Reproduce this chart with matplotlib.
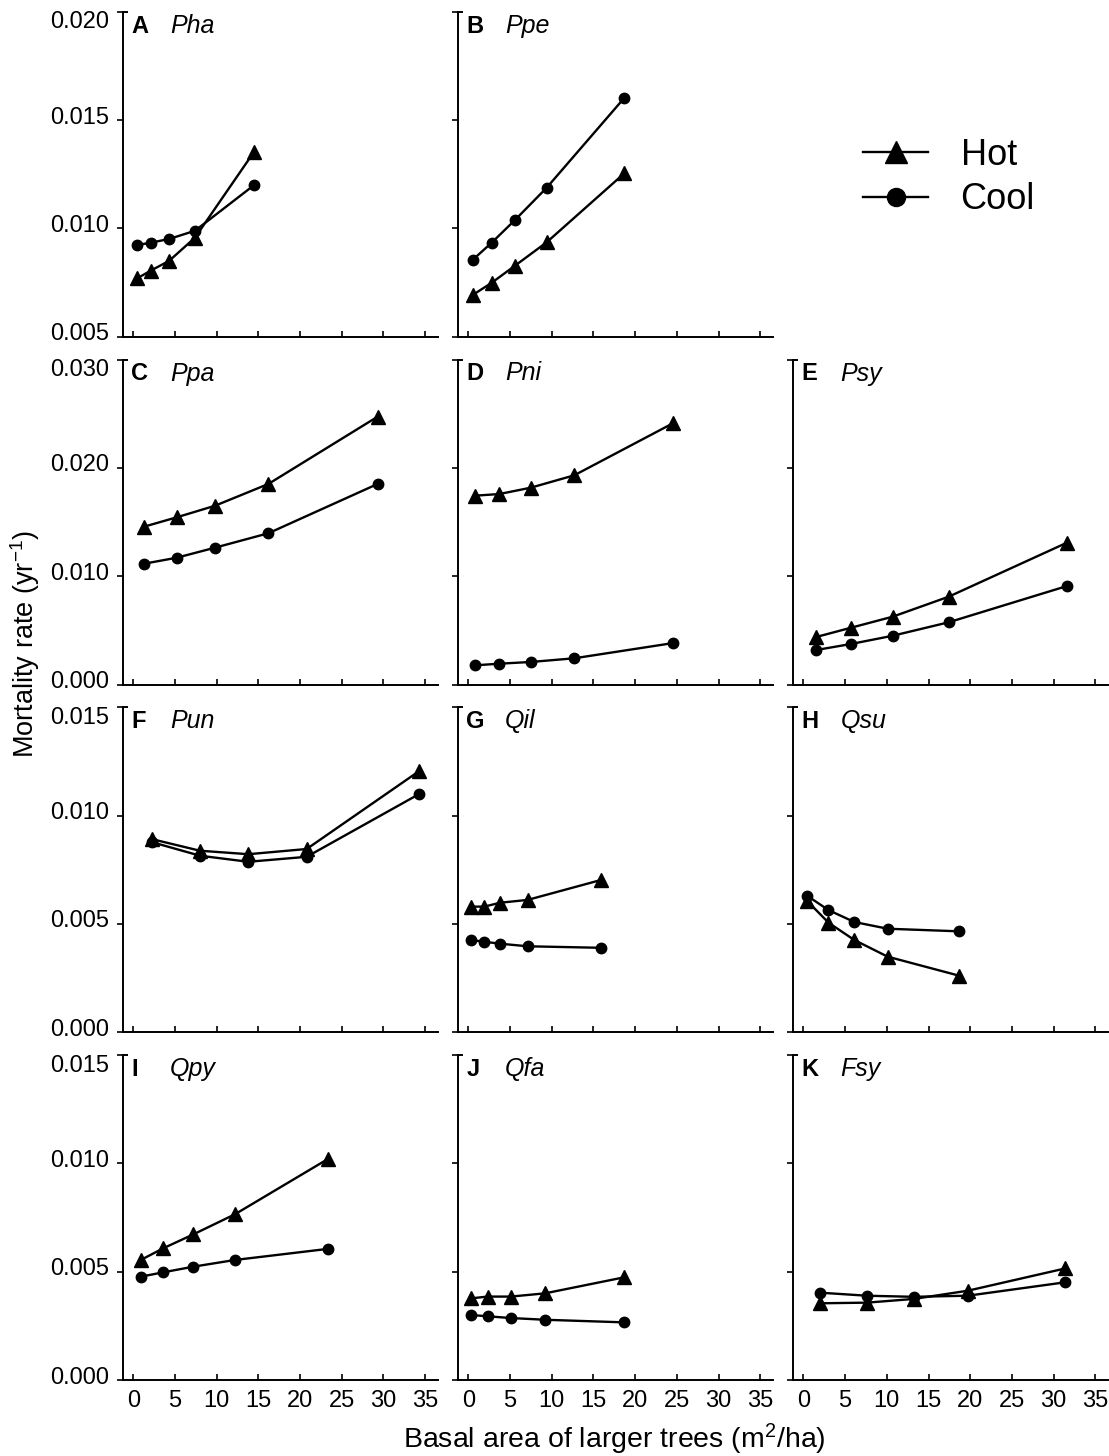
import matplotlib
matplotlib.use("Agg")
import matplotlib.pyplot as plt
from matplotlib.transforms import ScaledTranslation
from matplotlib.lines import Line2D

plt.rcParams['font.family'] = ['Liberation Sans', 'DejaVu Sans']
plt.rcParams['mathtext.fontset'] = 'custom'
plt.rcParams['mathtext.rm'] = 'Liberation Sans'
plt.rcParams['mathtext.it'] = 'Liberation Sans:italic'

# ---------------- data ----------------
letters = ['A', 'B', 'C', 'D', 'E', 'F', 'G', 'H', 'I', 'J', 'K']
species = ['Pha', 'Ppe', 'Ppa', 'Pni', 'Psy', 'Pun', 'Qil', 'Qsu', 'Qpy', 'Qfa', 'Fsy']

x_A = [0.5, 2.1, 4.3, 7.4, 14.5]
x_B = [0.5, 2.8, 5.6, 9.4, 18.7]
x_C = [1.3, 5.2, 9.8, 16.2, 29.3]
x_D = [0.8, 3.7, 7.5, 12.7, 24.6]
x_E = [1.5, 5.7, 10.7, 17.4, 31.6]
x_F = [2.3, 8.0, 13.8, 20.8, 34.3]
x_G = [0.3, 1.9, 3.8, 7.1, 15.9]
x_H = [0.45, 3.0, 6.1, 10.1, 18.7]
x_I = [0.9, 3.6, 7.2, 12.2, 23.3]
x_J = [0.35, 2.3, 5.1, 9.2, 18.7]
x_K = [2.0, 7.6, 13.2, 19.7, 31.4]

hot_A = [0.00770, 0.00805, 0.00850, 0.00957, 0.01354]
hot_B = [0.00692, 0.00749, 0.00828, 0.00936, 0.01254]
hot_C = [0.01457, 0.01543, 0.01650, 0.01851, 0.02472]
hot_D = [0.01743, 0.01758, 0.01817, 0.01931, 0.02414]
hot_E = [0.00438, 0.00524, 0.00626, 0.00810, 0.01309]
hot_F = [0.00891, 0.00838, 0.00822, 0.00846, 0.01206]
hot_G = [0.00580, 0.00580, 0.00598, 0.00611, 0.00703]
hot_H = [0.00606, 0.00506, 0.00426, 0.00349, 0.00261]
hot_I = [0.00554, 0.00608, 0.00672, 0.00765, 0.01019]
hot_J = [0.00377, 0.00385, 0.00385, 0.00400, 0.00474]
hot_K = [0.00354, 0.00357, 0.00374, 0.00412, 0.00515]

cool_A = [0.00923, 0.00934, 0.00951, 0.00989, 0.01200]
cool_B = [0.00854, 0.00934, 0.01039, 0.01188, 0.01602]
cool_C = [0.01115, 0.01170, 0.01263, 0.01396, 0.01851]
cool_D = [0.00177, 0.00192, 0.00208, 0.00242, 0.00383]
cool_E = [0.00318, 0.00374, 0.00450, 0.00574, 0.00909]
cool_F = [0.00877, 0.00815, 0.00787, 0.00810, 0.01100]
cool_G = [0.00426, 0.00418, 0.00409, 0.00397, 0.00390]
cool_H = [0.00630, 0.00564, 0.00509, 0.00478, 0.00466]
cool_I = [0.00477, 0.00497, 0.00523, 0.00554, 0.00605]
cool_J = [0.00300, 0.00294, 0.00286, 0.00278, 0.00266]
cool_K = [0.00403, 0.00389, 0.00384, 0.00389, 0.00451]

xs = [x_A, x_B, x_C, x_D, x_E, x_F, x_G, x_H, x_I, x_J, x_K]
hots = [hot_A, hot_B, hot_C, hot_D, hot_E, hot_F, hot_G, hot_H, hot_I, hot_J, hot_K]
cools = [cool_A, cool_B, cool_C, cool_D, cool_E, cool_F, cool_G, cool_H, cool_I, cool_J, cool_K]

x_ticks = [0, 5, 10, 15, 20, 25, 30, 35]
row_yticks = [
    [0.005, 0.010, 0.015, 0.020],
    [0.000, 0.010, 0.020, 0.030],
    [0.000, 0.005, 0.010, 0.015],
    [0.000, 0.005, 0.010, 0.015],
]
series_names = ['Hot', 'Cool']

# panel grid positions (row, col)
positions = [(0, 0), (0, 1), (1, 0), (1, 1), (1, 2), (2, 0), (2, 1), (2, 2),
             (3, 0), (3, 1), (3, 2)]

# ---------------- layout ----------------
W, H = 1109, 1456
fig = plt.figure(figsize=(W / 100, H / 100), dpi=100)

col_left = [122.6, 457.7, 792.8]
row_top = [11.7, 359.5, 707.3, 1055.0]
aw, ah = 315.0, 325.0

FS = 17
for i, (r, c) in enumerate(positions):
    l = col_left[c] / W
    b = 1 - (row_top[r] + ah) / H
    ax = fig.add_axes([l, b, aw / W, ah / H])
    yt = row_yticks[r]
    ax.plot(xs[i], hots[i], '-', color='black', lw=1.7, marker='^',
            markersize=9.5, label=series_names[0], clip_on=False)
    ax.plot(xs[i], cools[i], '-', color='black', lw=1.7, marker='o',
            markersize=7.5, label=series_names[1], clip_on=False)
    ax.set_xlim(-1.28, 36.5)
    ax.set_ylim(yt[0], yt[-1])
    ax.set_xticks(x_ticks)
    ax.set_yticks(yt)
    for s in ['top', 'right']:
        ax.spines[s].set_visible(False)
    for s in ['left', 'bottom']:
        ax.spines[s].set_linewidth(1.4)
    ax.tick_params(axis='x', direction='in', length=4, width=1.2, labelsize=FS, pad=7)
    ax.tick_params(axis='y', direction='out', length=4, width=1.2, labelsize=FS, pad=6)
    if r == 3:
        ax.set_xticklabels([str(t) for t in x_ticks])
    else:
        ax.set_xticklabels([])
    if c == 0:
        ax.set_yticklabels(['%.3f' % v for v in yt])
        labs = ax.get_yticklabels()
        for j, lab in enumerate(labs):
            dy = -8 if j == len(labs) - 1 else 5
            lab.set_transform(lab.get_transform() +
                              ScaledTranslation(0, dy / 100, fig.dpi_scale_trans))
    else:
        ax.set_yticklabels([])
    # bracket cap at top of left spine
    ax.plot([0, 5 / aw], [1, 1], color='black', lw=1.4, transform=ax.transAxes,
            clip_on=False, solid_capstyle='butt')
    # panel label
    off = ScaledTranslation(8.5 / 100, -21 / 100, fig.dpi_scale_trans)
    ax.text(0, 1, letters[i], transform=ax.transAxes + off, fontsize=17,
            fontweight='bold', ha='left', va='baseline')
    off2 = ScaledTranslation(47.5 / 100, -21 / 100, fig.dpi_scale_trans)
    ax.text(0, 1, species[i], transform=ax.transAxes + off2, fontsize=18,
            fontstyle='italic', ha='left', va='baseline')

# legend in the empty top-right slot
leg_handles = [Line2D([], [], color='black', lw=1.7, marker='^', markersize=16),
               Line2D([], [], color='black', lw=1.7, marker='o', markersize=13)]
fig.legend(leg_handles, series_names, loc='upper left',
           bbox_to_anchor=(863 / W, 1 - 138 / H), frameon=False, fontsize=26,
           handlelength=1.8, handletextpad=0.9, labelspacing=0.26,
           borderpad=0, borderaxespad=0)

fig.text(25 / W, 1 - 644 / H, r'Mortality rate (yr$^{-1}$)', rotation=90,
         ha='center', va='center', fontsize=19.5)
fig.text(614 / W, 1 - 1439 / H, r'Basal area of larger trees (m$^{2}$/ha)',
         ha='center', va='center', fontsize=20.5)

fig.savefig('out.png', dpi=100)
